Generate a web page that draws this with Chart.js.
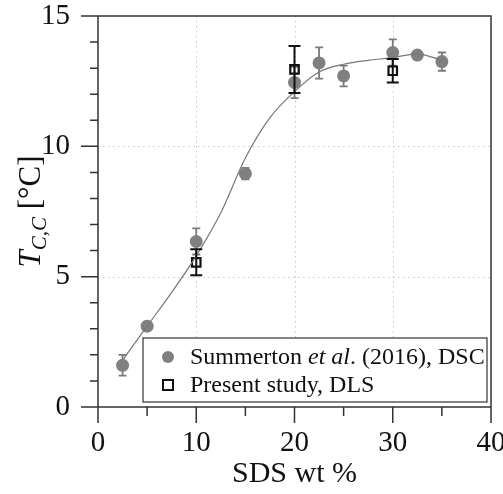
<!DOCTYPE html>
<html>
<head>
<meta charset="utf-8">
<script src="https://cdn.jsdelivr.net/npm/chart.js@4"></script>
<style>
  html, body { margin: 0; padding: 0; background: #fff; }
  #wrap { width: 503px; height: 494px; }
</style>
</head>
<body>
<div id="wrap"><canvas id="chart"></canvas></div>
<script>
// Summerton et al. (2016), DSC
const sdsX = [2.5, 5, 10, 15, 20, 22.5, 25, 30, 32.5, 35];
const sdsT = [1.6, 3.1, 6.35, 8.95, 12.45, 13.2, 12.7, 13.6, 13.5, 13.25];
const sdsErr = [0.4, 0.12, 0.5, 0.22, 0.6, 0.6, 0.4, 0.5, 0.1, 0.35];

// Present study, DLS
const dlsX = [10, 20, 30];
const dlsT = [5.55, 12.95, 12.9];
const dlsErr = [0.5, 0.9, 0.45];

// fitted guide curve
const fitX = [2.6, 5, 7.5, 10, 12.5, 15, 17.5, 20, 22.5, 25, 27.5, 30, 32.5, 35];
const fitT = [1.85, 3.1, 4.4, 5.8, 7.45, 9.55, 11.1, 12.1, 12.85, 13.15, 13.3, 13.4, 13.55, 13.3];

const xTicks = [0, 10, 20, 30, 40];
const xMinor = [5, 15, 25, 35];
const yTicks = [0, 5, 10, 15];

const SERIF = '"Liberation Serif", "DejaVu Serif", serif';

const pts = (xs, ys) => xs.map((x, i) => ({ x: x, y: ys[i] }));

function errorBars(ctx, chart, xs, ys, errs, color, width, cap) {
  const sx = chart.scales.x, sy = chart.scales.y;
  ctx.save();
  ctx.strokeStyle = color;
  ctx.lineWidth = width;
  xs.forEach((x, i) => {
    const px = sx.getPixelForValue(x);
    const top = sy.getPixelForValue(ys[i] + errs[i]);
    const bot = sy.getPixelForValue(ys[i] - errs[i]);
    ctx.beginPath();
    ctx.moveTo(px, top); ctx.lineTo(px, bot);
    ctx.moveTo(px - cap, top); ctx.lineTo(px + cap, top);
    ctx.moveTo(px - cap, bot); ctx.lineTo(px + cap, bot);
    ctx.stroke();
  });
  ctx.restore();
}

const decor = {
  id: 'decor',
  beforeDatasetsDraw(chart) {
    const ctx = chart.ctx, a = chart.chartArea;
    const sx = chart.scales.x, sy = chart.scales.y;
    // dotted grid
    ctx.save();
    ctx.strokeStyle = '#c8c8c8';
    ctx.lineWidth = 1;
    ctx.setLineDash([1.5, 3.5]);
    xTicks.slice(1, -1).forEach(v => {
      const p = Math.round(sx.getPixelForValue(v)) + 0.5;
      ctx.beginPath(); ctx.moveTo(p, a.top); ctx.lineTo(p, a.bottom); ctx.stroke();
    });
    yTicks.slice(1, -1).forEach(v => {
      const p = Math.round(sy.getPixelForValue(v)) + 0.5;
      ctx.beginPath(); ctx.moveTo(a.left, p); ctx.lineTo(a.right, p); ctx.stroke();
    });
    ctx.restore();
    errorBars(ctx, chart, sdsX, sdsT, sdsErr, '#7a7a7a', 1.8, 4);
  },
  afterDatasetsDraw(chart) {
    const ctx = chart.ctx, a = chart.chartArea;
    const sx = chart.scales.x, sy = chart.scales.y;
    errorBars(ctx, chart, dlsX, dlsT, dlsErr, '#111', 2, 6);

    // frame and ticks
    ctx.save();
    ctx.strokeStyle = '#333';
    ctx.lineWidth = 1.5;
    ctx.beginPath();
    ctx.moveTo(a.left, a.top); ctx.lineTo(a.right, a.top); ctx.lineTo(a.right, a.bottom);
    ctx.moveTo(a.left, a.top); ctx.lineTo(a.left, a.bottom + 16);
    ctx.moveTo(a.left - 17, a.bottom); ctx.lineTo(a.right, a.bottom);
    xTicks.forEach(v => {
      const p = sx.getPixelForValue(v);
      ctx.moveTo(p, a.bottom); ctx.lineTo(p, a.bottom + 16);
    });
    xMinor.forEach(v => {
      const p = sx.getPixelForValue(v);
      ctx.moveTo(p, a.bottom); ctx.lineTo(p, a.bottom + 9);
    });
    for (let v = 0; v <= 15; v++) {
      const p = sy.getPixelForValue(v);
      const len = v % 5 === 0 ? 17 : 8;
      ctx.moveTo(a.left - len, p); ctx.lineTo(a.left, p);
    }
    ctx.stroke();
    ctx.restore();

    // y axis title: T_{C,C} [°C]
    ctx.save();
    ctx.translate(30, (a.top + a.bottom) / 2);
    ctx.rotate(-Math.PI / 2);
    ctx.fillStyle = '#111';
    ctx.textBaseline = 'alphabetic';
    const parts = [
      { t: 'T', f: 'italic 31px ' + SERIF, dy: 0 },
      { t: 'C,C', f: 'italic 21px ' + SERIF, dy: 6 },
      { t: ' [°C]', f: '31px ' + SERIF, dy: 0 }
    ];
    let total = 0;
    parts.forEach(p => { ctx.font = p.f; p.w = ctx.measureText(p.t).width; total += p.w; });
    let cx = -total / 2;
    parts.forEach(p => { ctx.font = p.f; ctx.fillText(p.t, cx, 10 + p.dy); cx += p.w; });
    ctx.restore();

    // legend
    const lx = 143, ly = 338, lw = 344, lh = 64;
    ctx.save();
    ctx.fillStyle = '#fff';
    ctx.fillRect(lx, ly, lw, lh);
    ctx.strokeStyle = '#333';
    ctx.lineWidth = 1.2;
    ctx.strokeRect(lx, ly, lw, lh);
    ctx.fillStyle = '#808080';
    ctx.beginPath(); ctx.arc(168, 357, 6, 0, Math.PI * 2); ctx.fill();
    ctx.fillStyle = '#fff';
    ctx.strokeStyle = '#111';
    ctx.lineWidth = 2;
    ctx.fillRect(163, 380, 10, 10);
    ctx.strokeRect(163, 380, 10, 10);
    ctx.fillStyle = '#111';
    ctx.textBaseline = 'middle';
    const row1 = [
      { t: 'Summerton ', f: '24px ' + SERIF },
      { t: 'et al', f: 'italic 24px ' + SERIF },
      { t: '. (2016), DSC', f: '24px ' + SERIF }
    ];
    let tx = 190;
    row1.forEach(p => { ctx.font = p.f; ctx.fillText(p.t, tx, 358); tx += ctx.measureText(p.t).width; });
    ctx.font = '24px ' + SERIF;
    ctx.fillText('Present study, DLS', 190, 386);
    ctx.restore();
  }
};

new Chart(document.getElementById('chart'), {
  type: 'scatter',
  data: {
    datasets: [
      {
        type: 'line',
        label: 'fit',
        data: pts(fitX, fitT),
        borderColor: '#777',
        borderWidth: 1.2,
        pointRadius: 0,
        cubicInterpolationMode: 'monotone',
        fill: false
      },
      {
        label: 'Summerton et al. (2016), DSC',
        data: pts(sdsX, sdsT),
        pointStyle: 'circle',
        pointRadius: 6.5,
        backgroundColor: '#808080',
        borderColor: '#808080',
        borderWidth: 0
      },
      {
        label: 'Present study, DLS',
        data: pts(dlsX, dlsT),
        pointStyle: 'rect',
        pointRadius: 6,
        backgroundColor: 'rgba(255,255,255,0)',
        borderColor: '#111',
        borderWidth: 2.2
      }
    ]
  },
  options: {
    responsive: true,
    maintainAspectRatio: false,
    animation: false,
    layout: { padding: { top: 16, right: 12, left: 0, bottom: 0 } },
    plugins: { legend: { display: false }, tooltip: { enabled: false } },
    scales: {
      x: {
        min: 0, max: 40,
        afterFit: s => { s.height = 87; s.paddingLeft = 0; s.paddingRight = 0; },
        grid: { display: false },
        border: { display: false },
        ticks: {
          stepSize: 10, maxRotation: 0, padding: 11,
          color: '#111',
          font: { family: SERIF, size: 29 }
        },
        title: {
          display: true, text: 'SDS wt %', color: '#111',
          font: { family: SERIF, size: 30 },
          padding: { top: 0, bottom: 2 }
        }
      },
      y: {
        min: 0, max: 15,
        afterFit: s => { s.width = 98; s.paddingTop = 0; s.paddingBottom = 0; },
        grid: { display: false },
        border: { display: false },
        ticks: {
          stepSize: 5, padding: 20,
          color: '#111',
          font: { family: SERIF, size: 29 }
        }
      }
    }
  },
  plugins: [decor]
});
</script>
</body>
</html>
